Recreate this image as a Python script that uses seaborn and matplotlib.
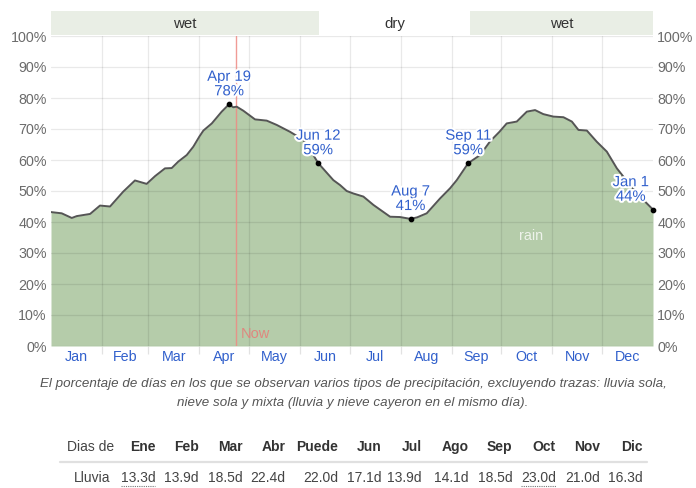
import matplotlib
matplotlib.use("Agg")
import matplotlib.pyplot as plt
import matplotlib.patheffects as pe
from matplotlib.lines import Line2D
import pandas as pd
import seaborn as sns

# Daily chance of a rainy day (percent), traced along the year (day 0 = Jan 1)
days = [0, 6.5, 12.6, 15.6, 23.7, 29.7, 35.8, 43.8, 50.9, 58.0, 63.1, 69.1,
        73.2, 77.2, 82.3, 86.3, 90.0, 92.4, 97.5, 103.5, 108, 110.5, 112.6,
        116.6, 123.7, 130.8, 136.9, 144.9, 153.0, 158.0, 162, 171.2, 175.3,
        179.3, 183.3, 189.4, 195.5, 205.6, 211.6, 218, 222.0, 227.8, 235.9,
        242.0, 246.0, 253, 260.2, 266.2, 271.9, 276.3, 282.4, 288.5, 293.5,
        298.5, 304.6, 310.7, 315.8, 319.8, 324.9, 330.9, 337.0, 343.1, 351.1,
        359.2, 365]
rain_pct = [43.2, 42.8, 41.3, 41.9, 42.6, 45.3, 45.0, 49.8, 53.4, 52.3, 54.8,
            57.3, 57.4, 59.5, 61.6, 64.3, 67.6, 69.5, 71.8, 75.6, 78.0, 77.0,
            77.2, 75.9, 73.1, 72.7, 71.3, 69.1, 66.5, 62.5, 59.0, 53.5, 51.9,
            50.0, 49.2, 48.2, 45.5, 41.7, 41.6, 41.0, 41.5, 42.8, 47.6, 50.9,
            53.5, 59.0, 61.6, 66.0, 69.1, 71.8, 72.4, 75.6, 76.1, 74.8, 74.0,
            73.8, 72.4, 69.7, 69.5, 65.9, 62.7, 57.3, 51.9, 47.1, 44.0]

month_names = ["Jan", "Feb", "Mar", "Apr", "May", "Jun",
               "Jul", "Aug", "Sep", "Oct", "Nov", "Dec"]
month_lengths = [31, 28, 31, 30, 31, 30, 31, 31, 30, 31, 30, 31]

season_names = ["wet", "dry", "wet"]
season_bounds = [0, 162.5, 254, 365]

marker_days = [108, 162, 218, 253, 365]
marker_pcts = [78, 59, 41, 59, 44]
marker_labels = ["Apr 19", "Jun 12", "Aug 7", "Sep 11", "Jan 1"]

now_day = 112.3

table_months = ["Ene", "Feb", "Mar", "Abr", "Puede", "Jun",
                "Jul", "Ago", "Sep", "Oct", "Nov", "Dic"]
rain_days = [13.3, 13.9, 18.5, 22.4, 22.0, 17.1, 13.9, 14.1, 18.5, 23.0, 21.0, 16.3]
linked_months = ["Ene", "Oct"]

caption = ("El porcentaje de días en los que se observan varios tipos de precipitación, "
           "excluyendo trazas: lluvia sola,\nnieve sola y mixta (lluvia y nieve cayeron "
           "en el mismo día).")

# ---------------------------------------------------------------- styling
sns.set_theme(style="white")
plt.rcParams["font.family"] = ["Liberation Sans", "DejaVu Sans"]

W, H = 696, 488
fig = plt.figure(figsize=(W / 100, H / 100), dpi=100)


def fx(x):
    return x / W


def fy(y):
    return 1 - y / H


FILL = "#b5ccaa"
EDGE = "#555555"
BLUE = "#3160cc"
TICK_GREY = "#6b6b6b"
WET_BAND = "#e9eee5"

ax = fig.add_axes([fx(51), fy(346), 602 / W, 310 / H])
df = pd.DataFrame({"day": days, "rain": rain_pct})

ax.fill_between(df["day"], 0, df["rain"], color=FILL, lw=0, zorder=1)
sns.lineplot(data=df, x="day", y="rain", ax=ax, color=EDGE, lw=1.4, zorder=5)

month_starts = [sum(month_lengths[:i]) for i in range(13)]
month_mids = [(month_starts[i] + month_starts[i + 1]) / 2 for i in range(12)]

# grid drawn over the fill so it shows through as darker lines
for v in range(0, 101, 10):
    ax.axhline(v, color="black", alpha=0.085, lw=0.9, zorder=3)
for s in month_starts[1:-1]:
    ax.axvline(s, color="black", alpha=0.085, lw=0.9, zorder=3)

ax.set_xlim(0, 365)
ax.set_ylim(0, 100)
for sp in ax.spines.values():
    sp.set_visible(False)

ax.set_yticks(range(0, 101, 10))
ax.set_yticklabels([f"{v}%" for v in range(0, 101, 10)])
ax.tick_params(axis="y", length=0, pad=3, labelsize=10.3, labelcolor=TICK_GREY,
               left=True, right=True, labelleft=True, labelright=True)

ax.set_xticks(month_starts[1:-1])
ax.set_xticklabels([])
ax.tick_params(axis="x", which="major", length=6, width=0.9, color="#e2e2e2", bottom=True)
ax.set_xticks(month_mids, minor=True)
ax.set_xticklabels(month_names, minor=True)
ax.tick_params(axis="x", which="minor", length=0, pad=3, labelsize=10.3, labelcolor=BLUE)
ax.set_xlabel("")
ax.set_ylabel("")

# current date marker
ax.axvline(now_day, color="#ee8a84", lw=1.0, alpha=0.85, zorder=4)
ax.text(now_day + 3, 1.5, "Now", color="#e4807a", fontsize=10.5, ha="left",
        va="bottom", alpha=0.9, zorder=6)

ax.text(291, 35.5, "rain", color="#eef3eb", fontsize=10.3, ha="center", va="center", zorder=6)

halo = [pe.withStroke(linewidth=3, foreground="white")]
for d, p, lab in zip(marker_days, marker_pcts, marker_labels):
    ax.plot([d], [p], "o", color="black", ms=3.1, zorder=7, clip_on=False)
    dx = -16 if d >= 360 else 0
    ax.annotate(f"{lab}\n{p}%", xy=(d, p), xytext=(dx, 14.5), textcoords="offset points",
                ha="center", va="center", color=BLUE, fontsize=10.7, linespacing=1.05,
                path_effects=halo, zorder=8)

# wet / dry season band above the plot
bax = fig.add_axes([fx(51), fy(35), 602 / W, 24 / H])
bax.set_xlim(0, 365)
bax.set_ylim(0, 1)
bax.axis("off")
for name, lo, hi in zip(season_names, season_bounds[:-1], season_bounds[1:]):
    if name == "wet":
        bax.axvspan(lo, hi, color=WET_BAND, lw=0)
    bax.text((lo + hi) / 2, 0.45, name, ha="center", va="center", fontsize=10.8, color="#333333")

# caption
fig.text(fx(353), fy(393.5), caption, ha="center", va="center", style="italic",
         color="#555555", fontsize=9.6, linespacing=1.85)

# monthly table of rainy days
col_right = [155.4, 198.7, 242.4, 285.7, 337.9, 381.7, 421.9, 468.8, 512.5, 555.8, 600.4, 642.9]
fig.text(fx(113.8), fy(447), "Dias de", ha="right", va="center", fontsize=10, color="#444444")
fig.text(fx(110.7), fy(478), "Lluvia", ha="right", va="center", fontsize=10, color="#444444")
fig.add_artist(Line2D([fx(60), fx(647)], [fy(462), fy(462)], color="#e0e0e0", lw=1.6))

value_texts = []
for m, v, xr in zip(table_months, rain_days, col_right):
    fig.text(fx(xr), fy(447), m, ha="right", va="center", fontsize=10,
             fontweight="bold", color="#333333")
    t = fig.text(fx(xr), fy(478), f"{v:.1f}d", ha="right", va="center", fontsize=10,
                 color="#444444")
    value_texts.append((m, t))

fig.canvas.draw()
renderer = fig.canvas.get_renderer()
for m, t in value_texts:
    if m in linked_months:
        bb = t.get_window_extent(renderer)
        fig.add_artist(Line2D([bb.x0 / W, bb.x1 / W], [fy(486), fy(486)],
                              color="#777777", lw=0.8, ls=(0, (1, 1))))

fig.savefig("out.png", dpi=100)
